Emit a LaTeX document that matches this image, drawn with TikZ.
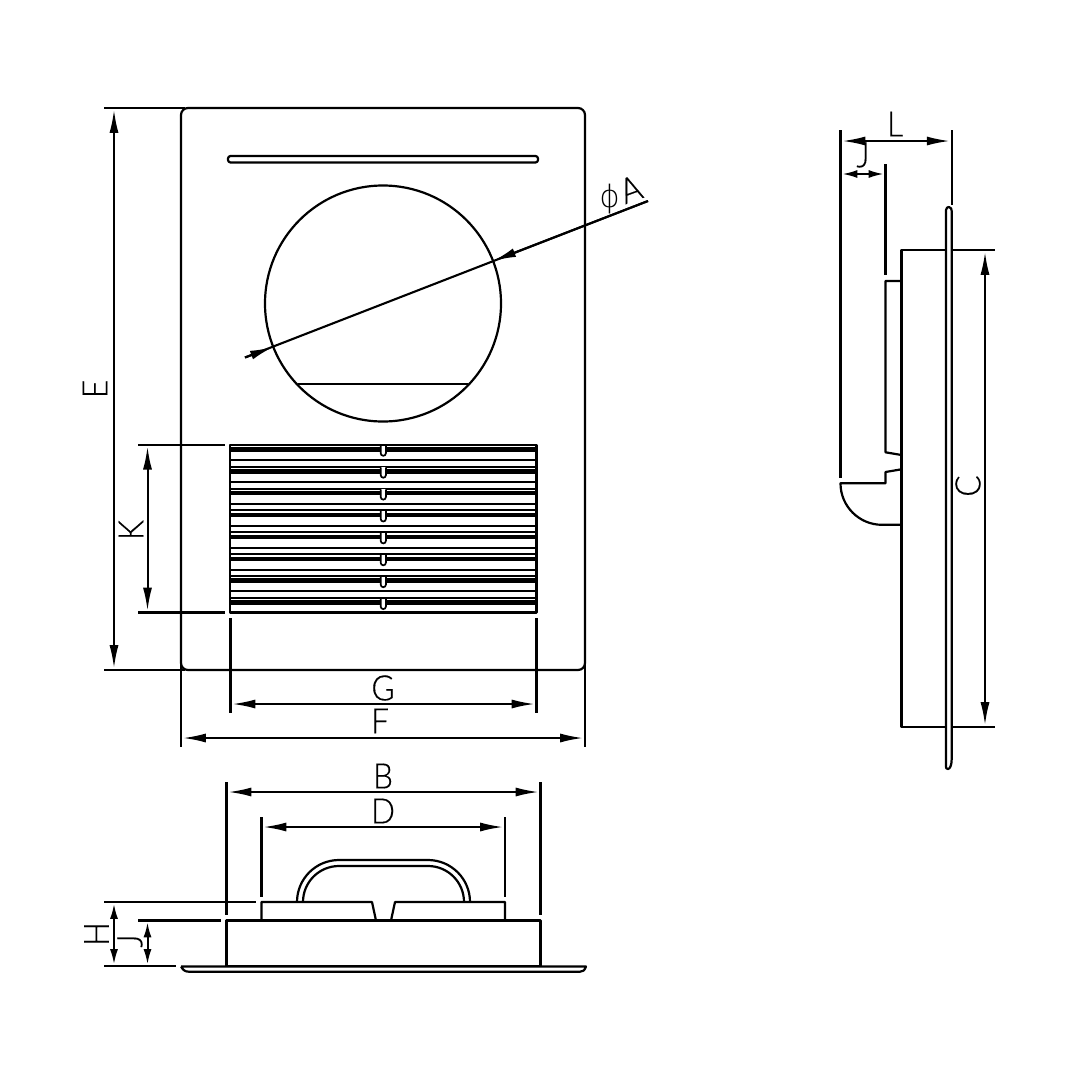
\documentclass[tikz,border=0pt]{standalone}
\usepackage{fontspec}
\usepackage{graphicx}
\setmainfont{Lato Light}[FakeStretch=0.9,FakeBold=0.4]
\usetikzlibrary{arrows.meta}
\tikzset{
  obj/.style={line width=2.2pt,line join=round},
  dimline/.style={line width=2pt,shorten <=1.8pt,shorten >=1.8pt,{Latex[length=23pt,width=9pt]}-{Latex[length=23pt,width=9pt]}},
  dimshort/.style={line width=2pt,shorten <=1.8pt,shorten >=1.8pt,{Latex[length=15pt,width=8pt]}-{Latex[length=15pt,width=8pt]}},
  ext/.style={line width=2.1pt},
  lab/.style={font=\fontsize{35}{35}\selectfont,inner sep=0pt}
}
\begin{document}
\begin{tikzpicture}[x=1pt,y=-1pt]
\useasboundingbox (0,0) rectangle (1080,1080);
\fill[white] (0,0) rectangle (1080,1080);
% front plate
\draw[obj,rounded corners=7pt] (181,108) rectangle (585,670);
\draw[obj,rounded corners=2.5pt] (228,156) rectangle (538,162.5);
\node[circle,draw,line width=2.2pt,minimum size=236pt,inner sep=0pt] (hole) at (383,303.5) {};
\draw[obj] (298,384) -- (468,384);
% louvre
\draw[obj] (230,444.7) rectangle (536.5,612.5);
\foreach \i in {0,...,7}{
  \pgfmathsetmacro\yy{444.7+21.9*\i}
  \draw[line width=4.6pt] (230,\yy+4.6) -- (536.5,\yy+4.6);
  \ifnum\i<7
    \draw[line width=2pt] (230,\yy+15.3) -- (536.5,\yy+15.3);
  \fi
  \ifnum\i>0
    \draw[line width=2pt] (230,\yy) -- (536.5,\yy);
  \fi
  \fill[white] (380.7,\yy+0.8) rectangle (385.9,\yy+9);
  \draw[line width=1.7pt] (380.7,\yy+0.8) -- (380.7,\yy+8.5) arc[start angle=180,end angle=360,radius=2.6pt] -- (385.9,\yy+0.8);
}
% phi A
\coordinate (pa) at (245,357.5);
\coordinate (pb) at (648,201);
\coordinate (pc) at (273,347);
\coordinate (pd) at (493,261);
\draw[ext] (pa) -- (pb);
\draw[ext,-{Latex[length=23pt,width=9pt]}] (pb) -- (pd);
\draw[ext,-{Latex[length=23pt,width=9pt]}] (pa) -- (pc);
\node[lab] at (622,194) {\raisebox{-3pt}{\fontspec{DejaVu Sans ExtraLight}\fontsize{31}{31}\selectfont ϕ}\kern-3pt\rotatebox{20}{A}};
% E
\draw[ext] (104,108) -- (185,108);
\draw[ext] (104,670) -- (185,670);
\coordinate (e1) at (114,108); \coordinate (e2) at (114,670);
\draw[dimline] (e1) -- (e2);
\node[lab,rotate=90] at (95,389) {E};
% K
\draw[ext] (138,444.7) -- (225,444.7);
\draw[ext] (138,612.5) -- (225,612.5);
\coordinate (k1) at (147.5,444.7); \coordinate (k2) at (147.5,612.5);
\draw[dimline] (k1) -- (k2);
\node[lab,rotate=90] at (131,530) {K};
% G F
\draw[ext] (230.5,618) -- (230.5,713);
\draw[ext] (536.5,618) -- (536.5,713);
\coordinate (g1) at (230.5,704); \coordinate (g2) at (536.5,704);
\draw[dimline] (g1) -- (g2);
\node[lab] at (383,688) {G};
\draw[ext] (181,665) -- (181,747);
\draw[ext] (585,665) -- (585,747);
\coordinate (f1) at (181,738); \coordinate (f2) at (585,738);
\draw[dimline] (f1) -- (f2);
\node[lab] at (380,721) {F};
% bottom view
\draw[ext] (226.5,782) -- (226.5,915);
\draw[ext] (540.5,782) -- (540.5,915);
\coordinate (b1) at (226.5,792); \coordinate (b2) at (540.5,792);
\draw[dimline] (b1) -- (b2);
\node[lab] at (383,776) {B};
\draw[ext] (261.5,817) -- (261.5,897);
\draw[ext] (505,817) -- (505,897);
\coordinate (d1) at (261.5,827); \coordinate (d2) at (505,827);
\draw[dimline] (d1) -- (d2);
\node[lab] at (383,811) {D};
\draw[obj] (226.5,920.5) -- (226.5,966) -- (540.5,966) -- (540.5,920.5) -- cycle;
\draw[obj] (261.5,920.5) -- (261.5,902) -- (372,902) -- (376,920.5);
\draw[obj] (391,920.5) -- (395,902) -- (505,902) -- (505,920.5);
\draw[obj] (297,902) arc[start angle=180,end angle=90,radius=42pt] -- (428,860) arc[start angle=90,end angle=0,radius=42pt];
\draw[obj] (303,902) arc[start angle=180,end angle=90,radius=36pt] -- (428,866) arc[start angle=90,end angle=0,radius=36pt];
\draw[obj] (181,966.5) -- (586,966.5) .. controls (584.5,970.5) and (583,971.7) .. (580,971.7) -- (189,971.7) .. controls (185,971.7) and (183,970) .. (181,966.5);
\draw[ext] (104,902) -- (256,902);
\draw[ext] (138,920.5) -- (221,920.5);
\draw[ext] (104,966) -- (176,966);
\coordinate (h1) at (114,902); \coordinate (h2) at (114,966);
\draw[dimshort] (h1) -- (h2);
\coordinate (j1) at (147.5,920.5); \coordinate (j2) at (147.5,966);
\draw[dimshort] (j1) -- (j2);
\node[lab,rotate=90] at (96.5,934) {H};
\node[lab,rotate=90] at (130,941) {J};
% side view
\draw[ext] (840.5,130) -- (840.5,478);
\draw[ext] (951.7,130) -- (951.7,205);
\coordinate (l1) at (840.5,141); \coordinate (l2) at (951.7,141);
\draw[dimline] (l1) -- (l2);
\node[lab] at (895,124) {L};
\draw[ext] (885.5,164) -- (885.5,275);
\coordinate (j3) at (840.5,174); \coordinate (j4) at (885.5,174);
\draw[dimshort] (j3) -- (j4);
\node[lab] at (863,155) {J};
\draw[obj] (946,767) -- (946,210) .. controls (946,207.5) and (948,207) .. (949,207) .. controls (951,207.5) and (951.7,209) .. (951.7,211) -- (951.7,759) .. controls (951.7,765) and (950,769) .. (948,769) .. controls (946.5,769) and (946,768) .. (946,767);
\draw[obj] (946,250) -- (901.5,250) -- (901.5,727) -- (946,727);
\draw[obj] (901.5,281) -- (885.5,281) -- (885.5,452.3) -- (901.5,455);
\draw[obj] (901.5,469.3) -- (885.5,472) -- (885.5,483.3) -- (840.5,483.3) arc[start angle=180,end angle=270,radius=41.5pt] -- (901.5,524.8);
\draw[ext] (951.7,250) -- (995,250);
\draw[ext] (951.7,727) -- (995,727);
\coordinate (c1) at (985,250); \coordinate (c2) at (985,727);
\draw[dimline] (c1) -- (c2);
\node[lab,rotate=90] at (968,486) {C};
\end{tikzpicture}
\end{document}
